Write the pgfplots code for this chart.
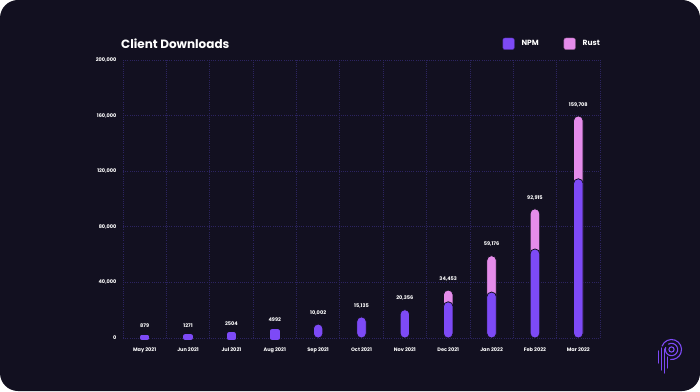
\documentclass[border=0pt]{standalone}
\usepackage{fontspec}
\setmainfont{Poppins}
\usepackage{pgfplots}
\pgfplotsset{compat=1.18}
\usepackage{pgfplotstable}
\definecolor{bg}{RGB}{18,16,32}
\definecolor{npm}{RGB}{125,74,246}
\definecolor{rust}{RGB}{229,140,234}
\definecolor{gridc}{RGB}{44,36,96}

% totals (labels) for every month
\pgfplotstableread{
x total label
0 879 879
1 1271 1271
2 2504 2504
3 4992 4992
4 10002 10,002
5 15135 15,135
6 20356 20,356
7 34453 34,453
8 59176 59,176
9 92915 92,915
10 159708 159,708
}\totals
% NPM, small months (drawn as short pills)
\pgfplotstableread{
x npm
0 879
1 1271
2 2504
3 4992
}\npmsmall
% NPM, larger months
\pgfplotstableread{
x npm
4 10002
5 15135
6 20356
7 26000
8 33000
9 64000
10 114500
}\npmbig
% NPM + Rust (top of the Rust segment)
\pgfplotstableread{
x total
7 34453
8 59176
9 92915
10 159708
}\rusttop

\begin{document}
\begin{tikzpicture}[x=1pt,y=1pt]
\useasboundingbox (0,0) rectangle (700,391);
\fill[white] (0,0) rectangle (700,391);
\fill[bg, rounded corners=18pt] (0,0) rectangle (700,391);
\node[anchor=west, text=white, font=\fontsize{12}{14}\selectfont\bfseries, inner sep=0pt] at (121,347) {Client Downloads};
\begin{axis}[
  at={(123pt,53pt)}, anchor=south west,
  scale only axis, width=477pt, height=278pt,
  xmin=-0.5, xmax=10.5, ymin=0, ymax=200000,
  axis line style={draw=none},
  xtick={0,...,10},
  xticklabels={May 2021,Jun 2021,Jul 2021,Aug 2021,Sep 2021,Oct 2021,Nov 2021,Dec 2021,Jan 2022,Feb 2022,Mar 2022},
  minor xtick={-0.5,0.5,...,10.5},
  xminorgrids, ymajorgrids,
  ytick={0,40000,80000,120000,160000,200000},
  yticklabels={0,{40,000},{80,000},{120,000},{160,000},{200,000}},
  scaled y ticks=false,
  major tick length=0pt, minor tick length=0pt,
  tick style={draw=none},
  major grid style={gridc, line width=0.7pt, dash pattern=on 0.9pt off 1.3pt},
  minor grid style={gridc, line width=0.7pt, dash pattern=on 0.9pt off 1.3pt},
  ticklabel style={font=\fontsize{5}{6}\selectfont\bfseries, text=white},
  xticklabel style={yshift=-6pt},
  yticklabel style={xshift=-3pt},
  bar width=9.5pt,
  clip=false,
  legend style={at={(1,1)}, anchor=south east, xshift=5pt, yshift=8pt, draw=none, fill=none,
    legend columns=2, text=white, font=\fontsize{7.5}{9}\selectfont\bfseries,
    /tikz/every odd column/.append style={column sep=5pt},
    /tikz/every even column/.append style={column sep=23pt}},
]
\addlegendimage{legend image code/.code={\fill[npm, draw=npm!60!black, rounded corners=2pt] (0pt,-5.8pt) rectangle (11.5pt,5.8pt);}}
\addlegendentry{NPM}
\addlegendimage{legend image code/.code={\fill[rust, draw=rust!60!black, rounded corners=2pt] (0pt,-5.8pt) rectangle (11.5pt,5.8pt);}}
\addlegendentry{Rust}
% Rust segment (drawn to the total, lower part covered by NPM)
\addplot[ybar, bar shift=0pt, fill=rust, draw=bg, line width=0.8pt, rounded corners=4.5pt]
  table[x=x, y=total] {\rusttop};
% NPM, large bars
\addplot[ybar, bar shift=0pt, fill=npm, draw=bg, line width=0.8pt, rounded corners=4.5pt]
  table[x=x, y=npm] {\npmbig};
% NPM, small bars: pills made by a thick rounded outline
\addplot[ybar, bar shift=0pt, bar width=5pt, fill=npm, draw=npm, line width=4.5pt, line join=round]
  table[x=x, y=npm] {\npmsmall};
% total labels
\addplot[draw=none, mark=none, nodes near coords, point meta=explicit symbolic,
  nodes near coords style={font=\fontsize{5}{6}\selectfont\bfseries, text=white, anchor=south, yshift=9pt, inner sep=0pt}]
  table[x=x, y=total, meta=label] {\totals};
\end{axis}
\begin{scope}[npm, line width=1.1pt, line cap=round]
\draw (671.5,41.5) circle (2.6);
\draw ([shift={(120:6.2)}]671.5,41.5) arc (120:-200:6.2);
\draw ([shift={(160:10)}]671.5,41.5) arc (160:-95:10);
\draw (658.5,40) -- (658.5,28);
\draw (661.5,43) -- (661.5,21);
\draw (664.5,42) -- (664.5,18);
\draw (667.5,34) -- (667.5,23);
\end{scope}
\end{tikzpicture}
\end{document}
